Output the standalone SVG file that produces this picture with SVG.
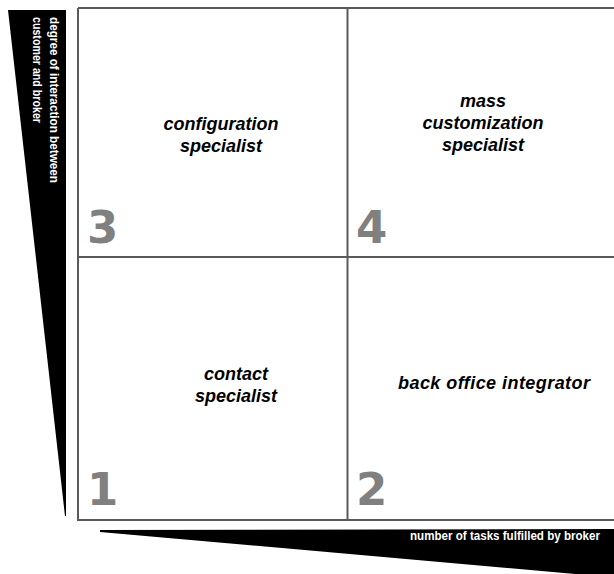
<svg xmlns="http://www.w3.org/2000/svg" width="614" height="574" viewBox="0 0 614 574">
<style>
.grid{stroke:#5a5a5a;stroke-width:2;fill:none}
.lab{font-family:"Liberation Sans",Arial,sans-serif;font-weight:bold;font-style:italic;font-size:18px;fill:#000;text-anchor:middle}
.num{font-family:"DejaVu Sans",sans-serif;font-weight:bold;font-size:45px;fill:#808080}
.axis{font-family:"Liberation Sans",Arial,sans-serif;font-weight:bold;font-size:12.5px;fill:#fff}
</style>
<rect width="614" height="574" fill="#fff"/>
<g id="axes">
<polygon points="8,10 66,10 66,516 65,516" fill="#000"/>
<text class="axis" transform="translate(50,17) rotate(90)" textLength="166" lengthAdjust="spacingAndGlyphs">degree of interaction between</text>
<text class="axis" transform="translate(33,17) rotate(90)" textLength="106" lengthAdjust="spacingAndGlyphs">customer and broker</text>
<polygon points="100,530 614,529 614,574 575,574 100,532" fill="#000"/>
<text class="axis" x="410" y="540" textLength="190" lengthAdjust="spacingAndGlyphs">number of tasks fulfilled by broker</text>
</g>
<g id="connectors">
<path class="grid" d="M78,8 H614 M78,8 V520 H614 M347.5,8 V520 M78,257 H614"/>
</g>
<g id="q3">
<text class="lab"><tspan x="221" y="130">configuration</tspan><tspan x="221" y="152">specialist</tspan></text>
<text class="num" x="87" y="243">3</text>
</g>
<g id="q4">
<text class="lab"><tspan x="483" y="107">mass</tspan><tspan x="483" y="129">customization</tspan><tspan x="483" y="151">specialist</tspan></text>
<text class="num" x="356" y="243">4</text>
</g>
<g id="q1">
<text class="lab"><tspan x="236" y="380">contact</tspan><tspan x="236" y="402">specialist</tspan></text>
<text class="num" x="87" y="505">1</text>
</g>
<g id="q2">
<text class="lab" x="494" y="389" textLength="192" lengthAdjust="spacing">back office integrator</text>
<text class="num" x="356" y="505">2</text>
</g>
</svg>
